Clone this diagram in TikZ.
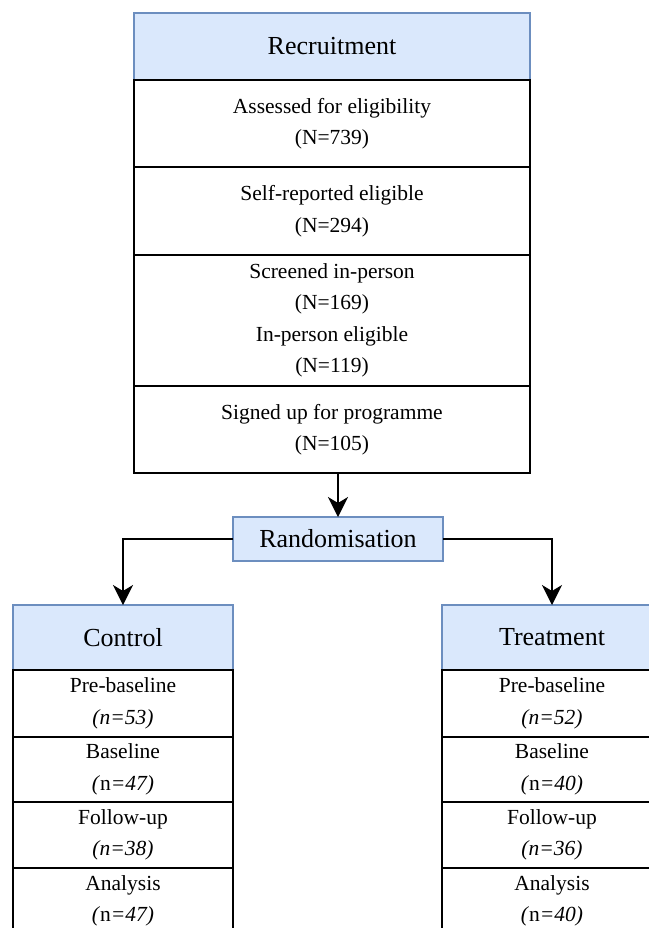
\documentclass[tikz,border=0pt]{standalone}
\usepackage{fontspec}
\setmainfont{Liberation Serif}
\usepackage{xcolor}
\usepackage{tikz}
\usetikzlibrary{arrows.meta,positioning}
\definecolor{headFill}{HTML}{DAE8FC}
\definecolor{headLine}{HTML}{6C8EBF}
\tikzset{
    headBox/.style={
        draw=headLine,
        fill=headFill,
        line width=0.75pt,
        inner sep=0pt,
        outer sep=0pt,
        align=center,
        font=\fontsize{13}{15.6}\selectfont
    },
    stageBox/.style={
        draw=black,
        fill=white,
        line width=1pt,
        inner sep=0pt,
        outer sep=0pt,
        align=center,
        font=\fontsize{10.75}{15.75}\selectfont
    },
    recruitCol/.style={
        minimum width=198pt
    },
    armCol/.style={
        minimum width=110pt
    },
    flowArrow/.style={
        -{Stealth[length=10pt,width=10pt,inset=3pt]},
        line width=1pt
    }
}

\begin{document}
\begin{tikzpicture}[node distance=0pt]
        \useasboundingbox (0,0) rectangle (324.5pt,-464pt);
        \clip (0,0) rectangle (324.5pt,-464pt);

        \node[headBox,recruitCol,minimum height=33.5pt,anchor=north] (recruit) at (166pt,-6.5pt) {Recruitment};
        \node[stageBox,recruitCol,minimum height=43.5pt,below=of recruit] (assessed) {Assessed for eligibility\\(N=739)};
        \node[stageBox,recruitCol,minimum height=44pt,below=of assessed] (selfrep) {Self-reported eligible\\(N=294)};
        \node[stageBox,recruitCol,minimum height=65.5pt,below=of selfrep] (screened) {Screened in-person\\(N=169)\\In-person eligible\\(N=119)};
        \node[stageBox,recruitCol,minimum height=43.5pt,below=of screened] (signed) {Signed up for programme\\(N=105)};

        \node[headBox,minimum width=105pt,minimum height=22pt,below=22pt of signed,xshift=3pt] (rand) {Randomisation};

        \node[headBox,armCol,minimum height=32.5pt,below=22pt of rand,xshift=-107.5pt] (control) {Control};
        \node[stageBox,armCol,minimum height=33.5pt,below=of control] (ctrlpre) {Pre-baseline\\\textit{(n=53)}};
        \node[stageBox,armCol,minimum height=32.5pt,below=of ctrlpre] (ctrlbase) {Baseline\\\textit{(}n\textit{=47)}};
        \node[stageBox,armCol,minimum height=33pt,below=of ctrlbase] (ctrlfollow) {Follow-up\\\textit{(n=38)}};
        \node[stageBox,armCol,minimum height=33pt,below=of ctrlfollow] (ctrlanalysis) {Analysis\\\textit{(}n\textit{=47)}};

        \node[headBox,armCol,minimum height=32.5pt,below=22pt of rand,xshift=107pt] (treatment) {Treatment};
        \node[stageBox,armCol,minimum height=33.5pt,below=of treatment] (treatpre) {Pre-baseline\\\textit{(n=52)}};
        \node[stageBox,armCol,minimum height=32.5pt,below=of treatpre] (treatbase) {Baseline\\\textit{(}n\textit{=40)}};
        \node[stageBox,armCol,minimum height=33pt,below=of treatbase] (treatfollow) {Follow-up\\\textit{(n=36)}};
        \node[stageBox,armCol,minimum height=33pt,below=of treatfollow] (treatanalysis) {Analysis\\\textit{(}n\textit{=40)}};

        \draw[flowArrow] (signed.south -| rand.north) -- (rand.north);
        \draw[flowArrow] (rand.west) -| (control.north);
        \draw[flowArrow] (rand.east) -| (treatment.north);
    \end{tikzpicture}
\end{document}
